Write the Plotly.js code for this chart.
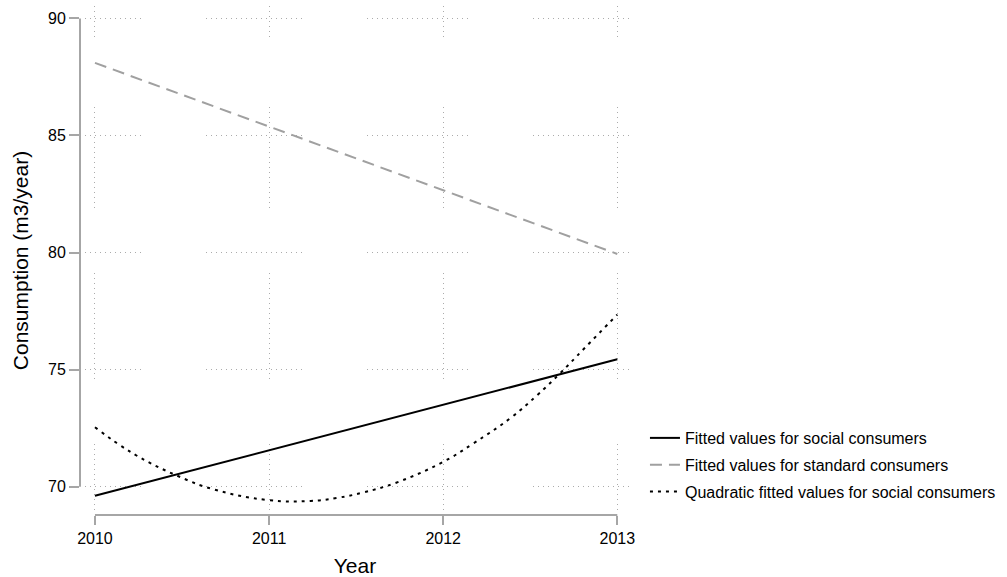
<!DOCTYPE html>
<html>
<head>
<meta charset="utf-8">
<script src="https://cdn.plot.ly/plotly-3.0.1.min.js"></script>
<style>html,body{margin:0;padding:0;background:#fff;}#chart{width:1007px;height:577px;}</style>
</head>
<body>
<div id="chart"></div>
<script>
// ---- data ----
const lineYears = [2010, 2013];
const socialFit = [69.61, 75.44];
const standardFit = [88.10, 79.94];
const quadYears = [2010, 2010.22, 2010.49, 2010.68, 2010.99, 2011.24, 2011.39, 2011.54, 2011.73, 2012.0, 2012.17, 2012.39, 2012.54, 2012.67, 2012.81, 2013];
const quadSocialFit = [72.54, 71.41, 70.41, 69.89, 69.43, 69.39, 69.52, 69.75, 70.17, 71.06, 71.83, 72.95, 73.91, 74.83, 75.90, 77.35];
const xTicks = [2010, 2011, 2012, 2013];
const yTicks = [70, 75, 80, 85, 90];
const seriesNames = ["Fitted values for social consumers", "Fitted values for standard consumers", "Quadratic fitted values for social consumers"];

// ---- styling helpers ----
const axisGray = '#a6a6a6';
const gridGray = '#ababab';
// visible dotted stretches of the gridlines (pixels from the start of each gridline)
const hGridStretches = [[5, 60], [126, 222], [287, 387], [453, 548]];
const vGridStretches = [[0, 30], [101, 201], [267, 372], [438, 504]];
function dotDash(stretches) {
  const dots = [];
  stretches.forEach(([a, b]) => { for (let p = a; p <= b; p += 5) dots.push(p); });
  const arr = [0, dots[0]];
  for (let i = 0; i < dots.length; i++) {
    const next = i < dots.length - 1 ? dots[i + 1] : dots[i] + 3000;
    arr.push(1, next - dots[i] - 1);
  }
  return arr.map(v => v + 'px').join(',');
}

const traces = [
  {x: lineYears, y: socialFit, type: 'scatter', mode: 'lines', name: seriesNames[0], legendgroup: 'a',
   line: {color: '#000000', width: 2}},
  {x: lineYears, y: standardFit, type: 'scatter', mode: 'lines', name: seriesNames[1], legendgroup: 'b',
   line: {color: '#a0a0a0', width: 2, dash: '12px,7px'}},
  {x: quadYears, y: quadSocialFit, type: 'scatter', mode: 'lines', name: seriesNames[2], legendgroup: 'c',
   line: {color: '#000000', width: 2, dash: '3px,5px', shape: 'spline', smoothing: 1.2}}
];

const layout = {
  width: 1007, height: 577,
  margin: {l: 80, r: 377, t: 6, b: 62, pad: 0},
  paper_bgcolor: '#ffffff', plot_bgcolor: '#ffffff',
  font: {family: 'Liberation Sans, Arial, sans-serif', size: 16, color: '#000000'},
  showlegend: true,
  xaxis: {
    range: [2009.914, 2013.073], tickvals: xTicks, ticktext: xTicks.map(String),
    ticks: 'outside', ticklen: 9, tickwidth: 2, tickcolor: axisGray,
    showline: false, zeroline: false,
    showgrid: true, gridcolor: gridGray, gridwidth: 1, griddash: dotDash(vGridStretches),
    title: {text: 'Year', font: {size: 21}}
  },
  yaxis: {
    range: [68.79, 90.53], tickvals: yTicks, ticktext: yTicks.map(String),
    ticks: 'outside', ticklen: 10, tickwidth: 2, tickcolor: axisGray,
    showline: false, zeroline: false,
    showgrid: true, gridcolor: gridGray, gridwidth: 1, griddash: dotDash(hGridStretches),
    title: {text: 'Consumption (m3/year)', font: {size: 21}}
  },
  legend: {
    x: 1.0272, xanchor: 'left', y: 0.1847, yanchor: 'top',
    font: {size: 16}, bgcolor: 'rgba(0,0,0,0)', borderwidth: 0,
    traceorder: 'grouped', tracegroupgap: 3
  },
  shapes: [
    {type: 'line', xref: 'paper', yref: 'y', x0: 0, x1: 0, y0: yTicks[0], y1: yTicks[yTicks.length - 1],
     line: {color: axisGray, width: 2}},
    {type: 'line', xref: 'x', yref: 'paper', x0: xTicks[0], x1: xTicks[xTicks.length - 1], y0: 0, y1: 0,
     line: {color: axisGray, width: 2}}
  ]
};

Plotly.newPlot('chart', traces, layout, {displayModeBar: false, staticPlot: true});
</script>
</body>
</html>
